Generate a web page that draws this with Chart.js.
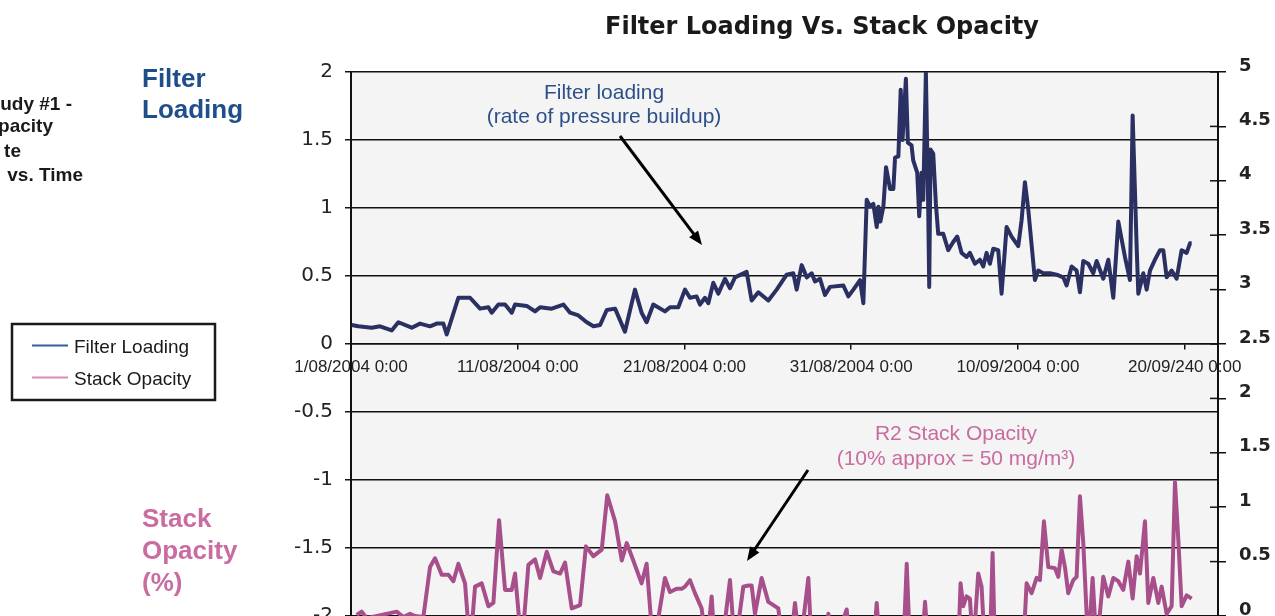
<!DOCTYPE html>
<html>
<head>
<meta charset="utf-8">
<title>Filter Loading Vs. Stack Opacity</title>
<script src="https://cdn.jsdelivr.net/npm/chart.js@4.4.1/dist/chart.umd.min.js"></script>
<style>
  html, body { margin: 0; padding: 0; background: #fff; overflow: hidden; }
  #wrap { position: relative; width: 1275px; height: 640px; }
</style>
</head>
<body>
<div id="wrap"><canvas id="chart" width="1275" height="640"></canvas></div>
<script>
'use strict';

// ── Data (x = days since 1/08/2004 0:00) ─────────────────────
const xTickLabels = ['1/08/2004 0:00', '11/08/2004 0:00', '21/08/2004 0:00',
                     '31/08/2004 0:00', '10/09/2004 0:00', '20/09/240 0:00'];

const filterDays = [
  0.04,0.44,1.24,1.74,2.44,2.84,3.64,4.14,4.74,5.14,5.54,5.74,6.44,7.14,7.74,8.24,8.44,8.84,9.24,9.64,
  9.84,10.54,11.04,11.34,12.04,12.74,13.14,13.64,14.14,14.54,14.94,15.34,15.84,16.43,
  17.03,17.43,17.73,18.13,18.83,19.13,19.63,20.03,20.33,20.73,20.93,21.23,21.43,21.73,22.03,22.43,
  22.73,23.03,23.73,24.03,24.43,25.03,25.53,26.13,26.53,26.73,27.03,27.33,27.63,27.83,28.13,28.43,
  28.73,29.53,29.83,30.13,30.53,30.73,
  30.93,31.13,31.33,31.53,31.63,31.75,31.93,32.09,32.33,32.53,32.63,32.83,32.97,33.08,33.28,33.40,
  33.62,33.72,33.96,34.08,34.22,34.32,34.48,34.62,34.68,34.76,34.92,35.08,35.22,35.52,35.82,36.12,36.36,
  36.62,36.92,37.12,37.42,37.72,37.92,38.12,38.32,38.52,38.82,39.02,39.32,39.62,40.02,40.22,40.42,
  40.62,41.02,41.22,41.52,41.92,42.32,42.72,42.92,43.22,43.52,43.72,43.92,44.22,44.52,44.72,45.12,
  45.42,45.72,46.02,46.42,46.72,46.88,47.12,47.22,47.52,47.72,47.92,48.22,48.52,48.72,48.92,49.22,
  49.52,49.82,50.12,50.32,50.42
];
const filterValues = [
  0.14,0.13,0.12,0.13,0.10,0.16,0.12,0.15,0.13,0.15,0.15,0.07,0.34,0.34,0.26,0.27,0.23,0.29,0.29,0.23,
  0.29,0.28,0.24,0.27,0.26,0.29,0.23,0.21,0.16,0.13,0.14,0.25,0.26,0.09,
  0.40,0.23,0.16,0.29,0.24,0.27,0.27,0.40,0.34,0.35,0.29,0.34,0.30,0.45,0.37,0.48,
  0.41,0.49,0.53,0.32,0.38,0.32,0.40,0.51,0.52,0.40,0.58,0.49,0.52,0.46,0.48,0.36,
  0.42,0.43,0.35,0.40,0.47,0.30,
  1.06,1.01,1.03,0.86,1.01,0.90,1.01,1.30,1.14,1.14,1.37,1.38,1.87,1.50,1.95,1.48,
  1.46,1.35,1.26,0.94,1.26,1.06,2.00,0.99,0.42,1.43,1.40,1.03,0.81,0.81,0.69,0.75,0.79,
  0.67,0.64,0.67,0.59,0.62,0.57,0.67,0.59,0.70,0.69,0.37,0.86,0.79,0.72,0.91,1.19,
  0.99,0.47,0.54,0.52,0.52,0.51,0.49,0.43,0.57,0.54,0.38,0.61,0.59,0.52,0.61,0.48,
  0.62,0.34,0.90,0.64,0.47,1.68,0.72,0.37,0.52,0.40,0.54,0.62,0.69,0.69,0.49,0.54,
  0.48,0.69,0.67,0.74,0.74
];

const opacityDays = [
  0.34,0.64,0.94,2.74,3.14,3.54,3.84,4.34,4.74,5.04,5.44,5.84,6.14,6.44,6.84,7.14,7.44,7.84,8.24,8.54,
  8.88,9.24,9.64,9.84,10.24,10.64,11.04,11.34,11.74,12.14,12.54,12.84,13.24,13.74,14.09,14.54,15.04,15.37,15.84,16.24,
  16.54,16.93,17.43,17.73,18.13,18.83,19.13,19.53,19.83,20.03,20.33,20.63,21.03,21.33,21.63,21.83,22.23,22.73,23.03,23.53,
  23.83,24.03,24.23,24.63,25.03,25.33,25.63,25.93,26.33,26.63,26.93,27.43,27.63,28.33,28.63,28.93,29.73,29.93,
  31.33,31.53,31.73,33.13,33.33,33.53,34.23,34.43,34.63,
  36.42,36.56,36.72,36.92,37.12,37.32,37.62,37.82,38.02,38.32,38.48,38.62,40.32,40.52,40.82,41.12,
  41.32,41.56,41.82,42.22,42.42,42.62,42.82,43.02,43.32,43.52,43.72,43.92,44.22,44.48,44.72,45.12,45.42,45.72,46.02,46.32,
  46.62,46.88,47.12,47.32,47.62,47.82,48.12,48.42,48.62,48.92,49.22,49.42,49.62,49.82,50.12,50.42
];
const opacityValues = [
  0.01,0.04,-0.02,0.04,-0.01,0.02,0.00,-0.01,0.45,0.53,0.38,0.38,0.32,0.48,0.30,-0.3,0.27,0.30,0.09,0.12,
  0.88,0.24,0.24,0.39,-0.3,0.47,0.52,0.35,0.59,0.41,0.39,0.49,0.07,0.10,0.64,0.55,0.61,1.11,0.87,0.51,
  0.67,0.51,0.30,0.48,-0.3,0.35,0.22,0.25,0.25,0.27,0.33,0.21,0.07,-0.3,0.18,-0.3,-0.3,0.33,-0.3,0.27,
  0.28,0.28,0.02,0.35,0.13,0.10,0.07,-0.3,-0.3,0.12,-0.3,0.35,-0.3,-0.3,0.02,-0.3,0.06,-0.3,
  -0.3,0.12,-0.3,-0.3,0.48,-0.3,-0.3,0.13,-0.3,
  -0.3,0.30,0.09,0.18,0.16,-0.3,0.39,0.27,-0.3,-0.3,0.58,-0.3,-0.3,0.30,0.21,0.35,
  0.33,0.87,0.45,0.44,0.36,0.61,0.45,0.21,0.33,0.36,1.10,0.67,-0.3,0.35,-0.3,0.36,0.18,0.35,0.32,0.24,
  0.50,0.16,0.55,0.39,0.87,0.12,0.35,0.12,0.27,0.02,0.09,1.23,0.70,0.09,0.19,0.16
];

// ── Colours / fonts ──────────────────────────────────────────
const FILTER_LINE  = '#2b3062';
const OPACITY_LINE = '#a64f8a';
const BLUE_TEXT    = '#1f4f8a';
const PINK_TEXT    = '#c96ca0';
const AXIS         = '#111';
const SANS         = '"Liberation Sans", Arial, sans-serif';
const WIDE         = '"DejaVu Sans", sans-serif';

// ── Decorations: plot background, inner ticks, notes, legend ─
function _text(ctx, str, x, y, font, color, align) {
    ctx.font = font; ctx.fillStyle = color; ctx.textAlign = align || 'left';
    ctx.textBaseline = 'alphabetic';
    ctx.fillText(str, x, y);
}

function _arrow(ctx, x1, y1, x2, y2) {
    const a = Math.atan2(y2 - y1, x2 - x1), h = 15, w = 0.38;
    ctx.strokeStyle = '#000'; ctx.fillStyle = '#000'; ctx.lineWidth = 3;
    ctx.beginPath();
    ctx.moveTo(x1, y1);
    ctx.lineTo(x2 - Math.cos(a) * h * 0.8, y2 - Math.sin(a) * h * 0.8);
    ctx.stroke();
    ctx.beginPath();
    ctx.moveTo(x2, y2);
    ctx.lineTo(x2 - h * Math.cos(a - w), y2 - h * Math.sin(a - w));
    ctx.lineTo(x2 - h * Math.cos(a + w), y2 - h * Math.sin(a + w));
    ctx.closePath();
    ctx.fill();
}

const decorPlugin = {
    id: 'decor',
    beforeDraw(chart) {
        const { ctx, chartArea: a } = chart;
        ctx.save();
        ctx.fillStyle = '#f4f4f4';
        ctx.fillRect(a.left, a.top, a.right - a.left, a.bottom - a.top);
        ctx.restore();
    },
    afterDraw(chart) {
        const ctx = chart.ctx;
        const r   = chart.scales.y2;
        ctx.save();

        // right axis ticks also cross into the plot
        ctx.strokeStyle = AXIS; ctx.lineWidth = 1.5;
        r.ticks.forEach(t => {
            const py = r.getPixelForValue(t.value);
            ctx.beginPath(); ctx.moveTo(r.left - 8, py); ctx.lineTo(r.left, py); ctx.stroke();
        });

        // title
        _text(ctx, 'Filter Loading Vs. Stack Opacity', 822, 34, 'bold 24px ' + WIDE, '#1a1a1a', 'center');

        // cut-off caption at far left
        const cap = 'bold 19px ' + SANS;
        _text(ctx, 'udy #1 -', 72, 110, cap, '#1a1a1a', 'right');
        _text(ctx, 'Opacity',  53, 132, cap, '#1a1a1a', 'right');
        _text(ctx, 'te',       21, 157, cap, '#1a1a1a', 'right');
        _text(ctx, 'vs. Time', 83, 181, cap, '#1a1a1a', 'right');

        // side headings
        const head = 'bold 26px ' + SANS;
        _text(ctx, 'Filter',  142, 87,  head, BLUE_TEXT);
        _text(ctx, 'Loading', 142, 118, head, BLUE_TEXT);
        _text(ctx, 'Stack',   142, 527, head, PINK_TEXT);
        _text(ctx, 'Opacity', 142, 559, head, PINK_TEXT);
        _text(ctx, '(%)',     142, 591, head, PINK_TEXT);

        // in-plot notes + arrows
        const note = '21px ' + SANS;
        _text(ctx, 'Filter loading',             604, 99,  note, '#2d5088', 'center');
        _text(ctx, '(rate of pressure buildup)', 604, 123, note, '#2d5088', 'center');
        _text(ctx, 'R2 Stack Opacity',           956, 440, note, PINK_TEXT, 'center');
        _text(ctx, '(10% approx = 50 mg/m³)',    956, 465, note, PINK_TEXT, 'center');
        _arrow(ctx, 620, 136, 702, 245);
        _arrow(ctx, 808, 470, 747, 561);

        // legend box
        ctx.strokeStyle = '#1a1a1a'; ctx.lineWidth = 2.5;
        ctx.strokeRect(12, 324, 203, 76);
        ctx.lineWidth = 2;
        ctx.strokeStyle = '#2e5f9e';
        ctx.beginPath(); ctx.moveTo(32, 345.5); ctx.lineTo(68, 345.5); ctx.stroke();
        ctx.strokeStyle = '#d98abb';
        ctx.beginPath(); ctx.moveTo(32, 377.5); ctx.lineTo(68, 377.5); ctx.stroke();
        _text(ctx, 'Filter Loading', 74, 353, '19px ' + SANS, '#1a1a1a');
        _text(ctx, 'Stack Opacity',  74, 385, '19px ' + SANS, '#1a1a1a');

        ctx.restore();
    }
};

// ── Chart ────────────────────────────────────────────────────
const toPoints = (xs, ys) => xs.map((d, i) => ({ x: d, y: ys[i] }));

new Chart(document.getElementById('chart').getContext('2d'), {
    type: 'line',
    data: {
        datasets: [
            { label: 'Filter Loading', data: toPoints(filterDays, filterValues), yAxisID: 'y',
              borderColor: FILTER_LINE, borderWidth: 4 },
            { label: 'Stack Opacity', data: toPoints(opacityDays, opacityValues), yAxisID: 'y2',
              borderColor: OPACITY_LINE, borderWidth: 4 }
        ]
    },
    options: {
        responsive: false, animation: false, devicePixelRatio: 1,
        layout: { padding: { top: 72, bottom: 24, left: 0, right: 0 } },
        elements: { point: { radius: 0 }, line: { tension: 0, borderJoinStyle: 'round', fill: false } },
        plugins: { legend: { display: false }, title: { display: false }, tooltip: { enabled: false } },
        scales: {
            x: {
                type: 'linear', position: { y: 0 }, min: 0, max: 52,
                grid: { drawOnChartArea: false, tickLength: 5, color: AXIS, lineWidth: 1.5 },
                border: { display: true, color: AXIS, width: 1.5 },
                ticks: {
                    stepSize: 10, includeBounds: false, autoSkip: false, maxRotation: 0, padding: 8,
                    color: '#222', font: { family: SANS, size: 17 },
                    callback: v => xTickLabels[Math.round(v / 10)] || ''
                }
            },
            y: {
                position: 'left', min: -2, max: 2,
                afterFit: s => { s.width = 351; },
                grid: { color: AXIS, lineWidth: 1.5, tickLength: 6 },
                border: { color: AXIS, width: 2 },
                ticks: { stepSize: 0.5, padding: 12, color: '#222', font: { family: WIDE, size: 20 },
                         callback: v => String(v) }
            },
            y2: {
                position: 'right', min: 0, max: 5,
                afterFit: s => { s.width = 57; },
                grid: { drawOnChartArea: false, tickLength: 8, color: AXIS, lineWidth: 1.5 },
                border: { color: AXIS, width: 2 },
                ticks: { stepSize: 0.5, padding: 13, labelOffset: -6, color: '#222',
                         font: { family: WIDE, size: 18, weight: 'bold' },
                         callback: v => String(v) }
            }
        }
    },
    plugins: [decorPlugin]
});
</script>
</body>
</html>
